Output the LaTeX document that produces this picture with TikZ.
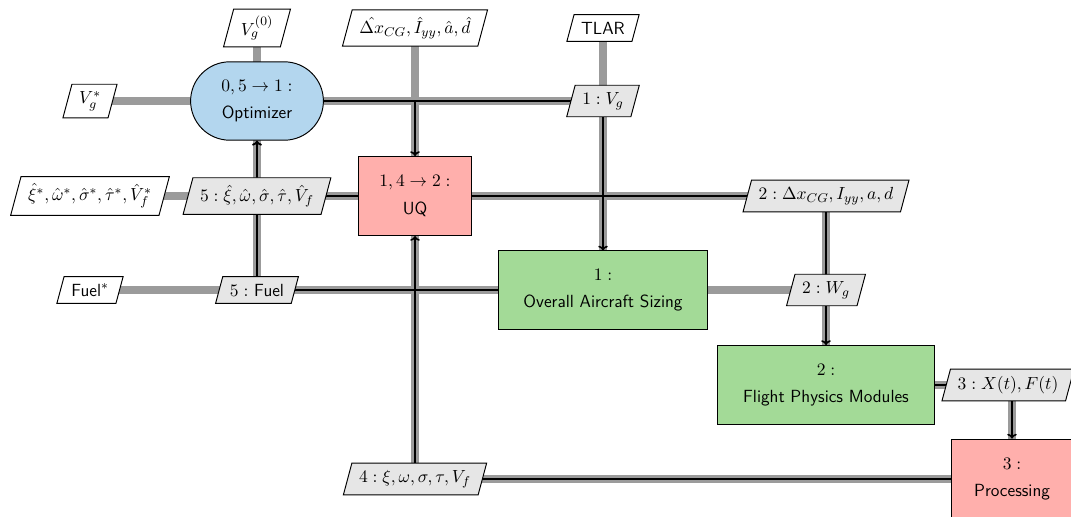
\documentclass[tikz,border=0pt]{standalone}
\usetikzlibrary{shapes.geometric,shapes.misc,backgrounds,arrows.meta}
\definecolor{optcol}{RGB}{179,214,238}
\definecolor{funcol}{RGB}{163,218,151}
\definecolor{anacol}{RGB}{255,175,172}
\definecolor{datagray}{RGB}{230,230,230}
\definecolor{linegray}{RGB}{155,155,155}
\tikzset{
  block/.style={draw=black, line width=0.6pt, align=center, font=\fontsize{11}{13.2}\selectfont\sffamily, inner sep=2pt},
  optblock/.style={block, rounded rectangle, fill=optcol},
  funblock/.style={block, rectangle, fill=funcol},
  anablock/.style={block, rectangle, fill=anacol},
  iobox/.style={draw=black, line width=0.6pt, trapezium, trapezium left angle=75, trapezium right angle=105, inner sep=4.5pt, font=\fontsize{11}{13.2}\selectfont\sffamily, fill=white},
  databox/.style={iobox, fill=datagray},
  dataline/.style={draw=linegray, line width=5pt},
  procline/.style={draw=black, line width=1pt, -{To[length=3pt,width=6pt]}}
}
\begin{document}
\begin{tikzpicture}[x=0.625pt,y=-0.625pt]
\useasboundingbox (0,0) rectangle (1071,516);
% blocks
\node[optblock, minimum width=87pt, minimum height=49pt] (opt) at (257,101) {$0, 5 \rightarrow 1:$\\[4pt]Optimizer};
\node[anablock, minimum width=70.6pt, minimum height=49.4pt] (uq) at (415,196) {$1, 4 \rightarrow 2:$\\[4pt]UQ};
\node[funblock, minimum width=130.6pt, minimum height=48.8pt] (siz) at (603,290) {$1:$\\[4pt]Overall Aircraft Sizing};
\node[funblock, minimum width=135.6pt, minimum height=49.4pt] (fp) at (826,385) {$2:$\\[4pt]Flight Physics Modules};
\node[anablock, minimum width=76pt, minimum height=50pt] (proc) at (1012,479) {$3:$\\[4pt]Processing};
% inputs
\node[iobox] (v0) at (257,28) {$V_g^{(0)}$};
\node[iobox] (vstar) at (90,101) {$V_g^*$};
\node[iobox] (dxhat) at (415,28) {$\hat{\Delta x}_{CG}, \hat{I}_{yy}, \hat{a}, \hat{d}$};
\node[iobox] (tlar) at (603,28) {TLAR};
\node[iobox] (xistar) at (90,196) {$\hat{\xi}^*, \hat{\omega}^*, \hat{\sigma}^*, \hat{\tau}^*, \hat{V}_f^*$};
\node[iobox] (fuelstar) at (90,290) {Fuel$^*$};
% data
\node[databox] (d1) at (603,101) {$1: V_g$};
\node[databox] (d5xi) at (257,196) {$5: \hat{\xi}, \hat{\omega}, \hat{\sigma}, \hat{\tau}, \hat{V}_f$};
\node[databox] (d2dx) at (826,196) {$2: \Delta x_{CG}, I_{yy}, a, d$};
\node[databox] (d5fuel) at (257,290) {$5:$ Fuel};
\node[databox] (d2wg) at (826,290) {$2: W_g$};
\node[databox] (d3) at (1008,385) {$3: X(t), F(t)$};
\node[databox] (d4) at (415,479) {$4: \xi, \omega, \sigma, \tau, V_f$};
\begin{pgfonlayer}{background}
% data lines
\draw[dataline] (v0.center) -- (opt.center);
\draw[dataline] (vstar.center) -- (opt.center);
\draw[dataline] (opt.center) -- (d1.center);
\draw[dataline] (tlar.center) -- (d1.center);
\draw[dataline] (d1.center) -- (siz.center);
\draw[dataline] (dxhat.center) -- (uq.center);
\draw[dataline] (xistar.center) -- (d5xi.center);
\draw[dataline] (d5xi.center) -- (uq.center);
\draw[dataline] (d5xi.center) -- (opt.center);
\draw[dataline] (fuelstar.center) -- (d5fuel.center);
\draw[dataline] (d5fuel.center) -- (siz.center);
\draw[dataline] (d5fuel.center) -- (d5xi.center);
\draw[dataline] (uq.center) -- (d2dx.center);
\draw[dataline] (d2dx.center) -- (d2wg.center);
\draw[dataline] (siz.center) -- (d2wg.center);
\draw[dataline] (d2wg.center) -- (fp.center);
\draw[dataline] (fp.center) -- (d3.center -| proc.center);
\draw[dataline] (d3.center -| proc.center) -- (proc.center);
\draw[dataline] (proc.center) -- (d4.center);
\draw[dataline] (d4.center) -- (uq.center);
% process lines
\draw[procline] (opt) -| (uq);
\draw[procline] (opt) -| (siz);
\draw[procline] (uq) -| (fp);
\draw[procline] (fp) -| (proc);
\draw[procline] (proc) -| (uq);
\draw[procline] (uq) -| (opt);
\draw[procline] (siz) -| (opt);
\end{pgfonlayer}
\end{tikzpicture}
\end{document}
